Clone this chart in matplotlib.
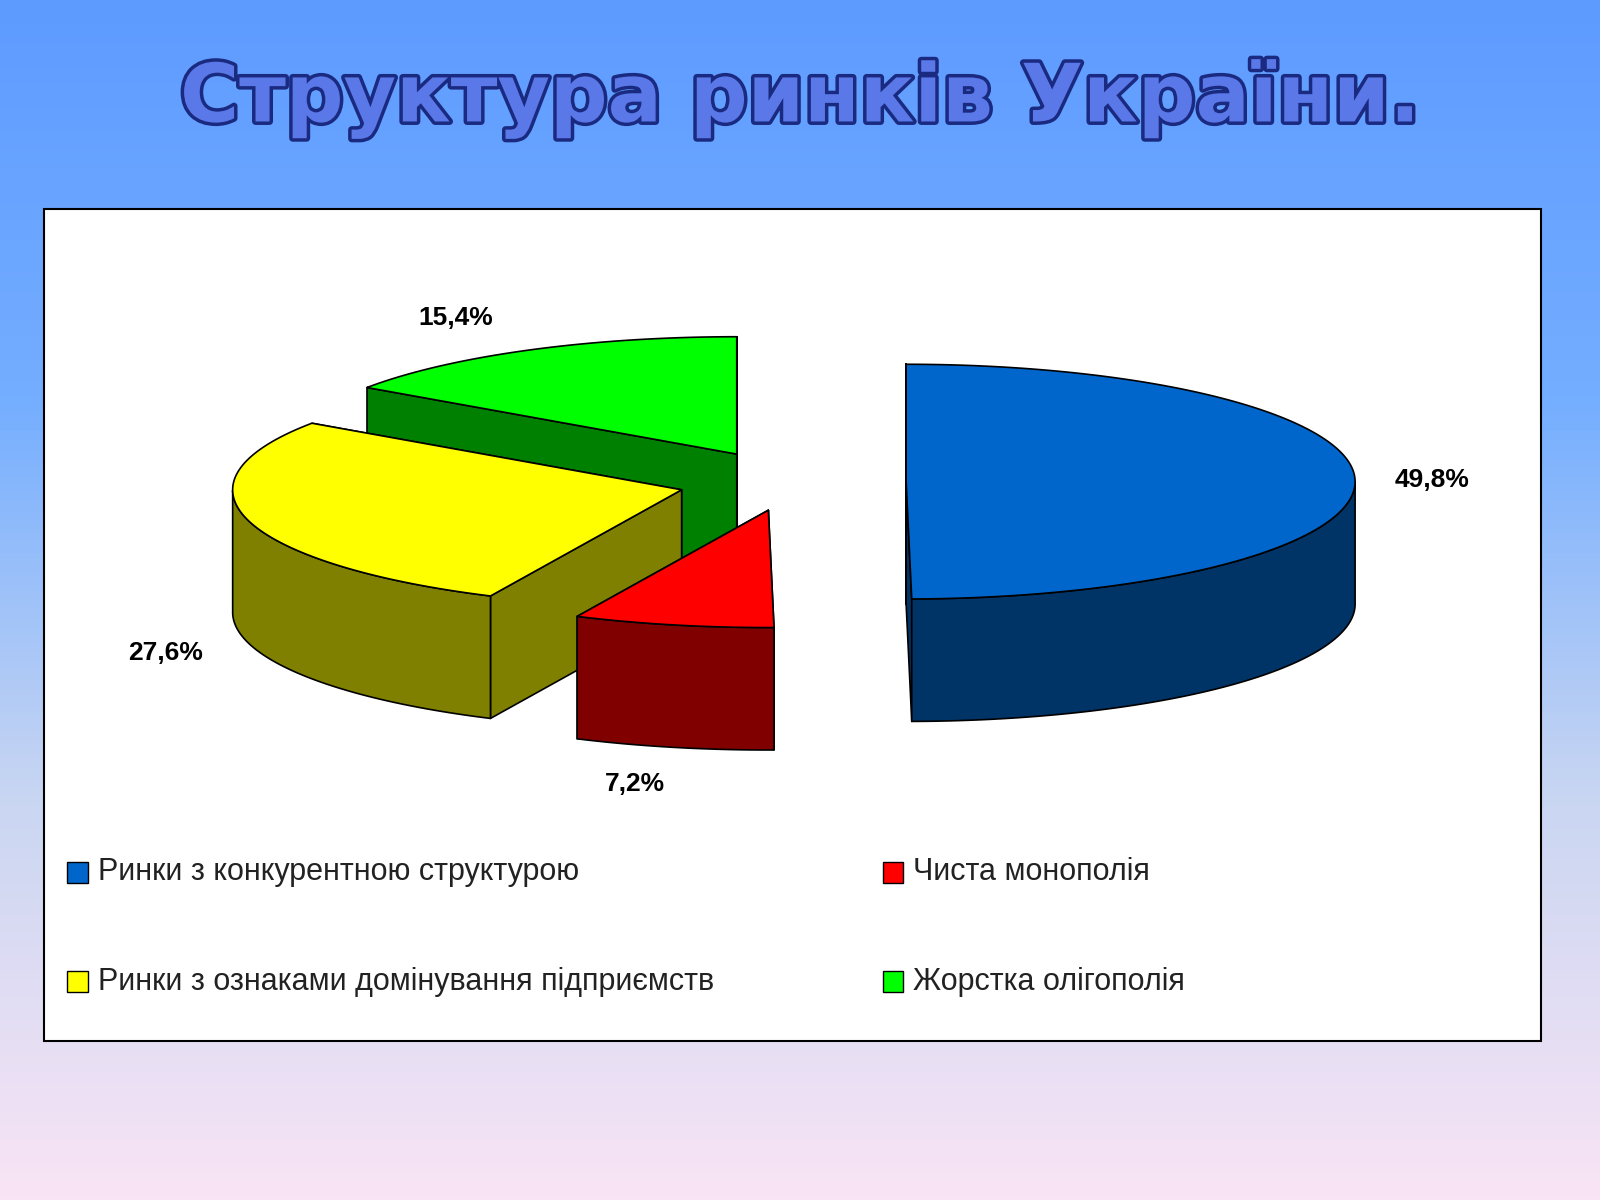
import numpy as np
import matplotlib.pyplot as plt
import matplotlib.patheffects as pe
from matplotlib.colors import LinearSegmentedColormap

# data
labels = ['Ринки з конкурентною структурою', 'Чиста монополія',
          'Ринки з ознаками домінування підприємств', 'Жорстка олігополія']
values = [49.8, 7.2, 27.6, 15.4]
value_text = ['49,8%', '7,2%', '27,6%', '15,4%']
top_colors = ['#0066CC', '#FF0000', '#FFFF00', '#00FF00']
side_colors = ['#003366', '#800000', '#808000', '#008000']

# layout (pixel coords, y down)
centers = [(888, 472), (753, 500), (668, 480), (722, 445)]
label_pos = [(1403, 470), (622, 768), (162, 640), (447, 312)]
A, B, H = 440, 115, 120

fig = plt.figure(figsize=(16, 12), dpi=100)
ax = fig.add_axes([0, 0, 1, 1])
ax.set_xlim(0, 1568)
ax.set_ylim(1176, 0)
ax.axis('off')

cmap = LinearSegmentedColormap.from_list('bg', ['#5E9BFF', '#74AEFF', '#C9D6F2', '#F9E4F5'])
ax.imshow(np.linspace(0, 1, 256).reshape(-1, 1), cmap=cmap, aspect='auto',
          extent=[0, 1568, 1176, 0], zorder=0)

ax.text(784, 97, 'Структура ринків України.', ha='center', va='center',
        fontsize=58, fontweight='bold', family='DejaVu Sans', color='#5A78E8',
        path_effects=[pe.withStroke(linewidth=5, foreground='#1A2A80')], zorder=2)

ax.add_patch(plt.Rectangle((43, 205), 1467, 815, facecolor='white',
                           edgecolor='black', lw=1.5, zorder=1))

# clockwise from 90 deg: compute wedge angles
angles = []
start = 90.0
for v in values:
    end = start - v * 3.6
    angles.append((end, start))
    start = end

def pt(c, th, dy=0):
    return (c[0] + A * np.cos(th), c[1] - B * np.sin(th) + dy)

order = sorted(range(4), key=lambda i: -np.sin(np.radians(sum(angles[i]) / 2)))
z = 3
for i in order:
    c = centers[i]
    a0, a1 = np.radians(angles[i][0]), np.radians(angles[i][1])
    th = np.linspace(a0, a1, 200)
    kw = dict(edgecolor='black', lw=1.2, joinstyle='round')
    # radial faces
    for t in (a0, a1):
        p = pt(c, t)
        quad = [c, p, (p[0], p[1] + H), (c[0], c[1] + H)]
        ax.add_patch(plt.Polygon(quad, facecolor=side_colors[i], zorder=z, **kw))
    z += 1
    # outer wall (front part)
    front = th[np.sin(th) <= 0]
    if len(front) > 1:
        topa = [pt(c, t) for t in front]
        bota = [pt(c, t, H) for t in front[::-1]]
        ax.add_patch(plt.Polygon(topa + bota, facecolor=side_colors[i], zorder=z, **kw))
    z += 1
    top = [c] + [pt(c, t) for t in th]
    ax.add_patch(plt.Polygon(top, facecolor=top_colors[i], zorder=z, **kw))
    z += 1

for (x, y), s in zip(label_pos, value_text):
    ax.text(x, y, s, ha='center', va='center', fontsize=19, fontweight='bold',
            family='Liberation Sans', zorder=20)

legend_pos = [(66, 855), (865, 855), (66, 962), (865, 962)]
for (x, y), lab, col in zip(legend_pos, labels, top_colors):
    ax.add_patch(plt.Rectangle((x, y - 10), 20, 20, facecolor=col,
                               edgecolor='black', lw=1, zorder=20))
    ax.text(x + 30, y, lab, ha='left', va='center', fontsize=22,
            family='Liberation Sans', color='#222222', zorder=20)

fig.savefig('out.png', dpi=100)
